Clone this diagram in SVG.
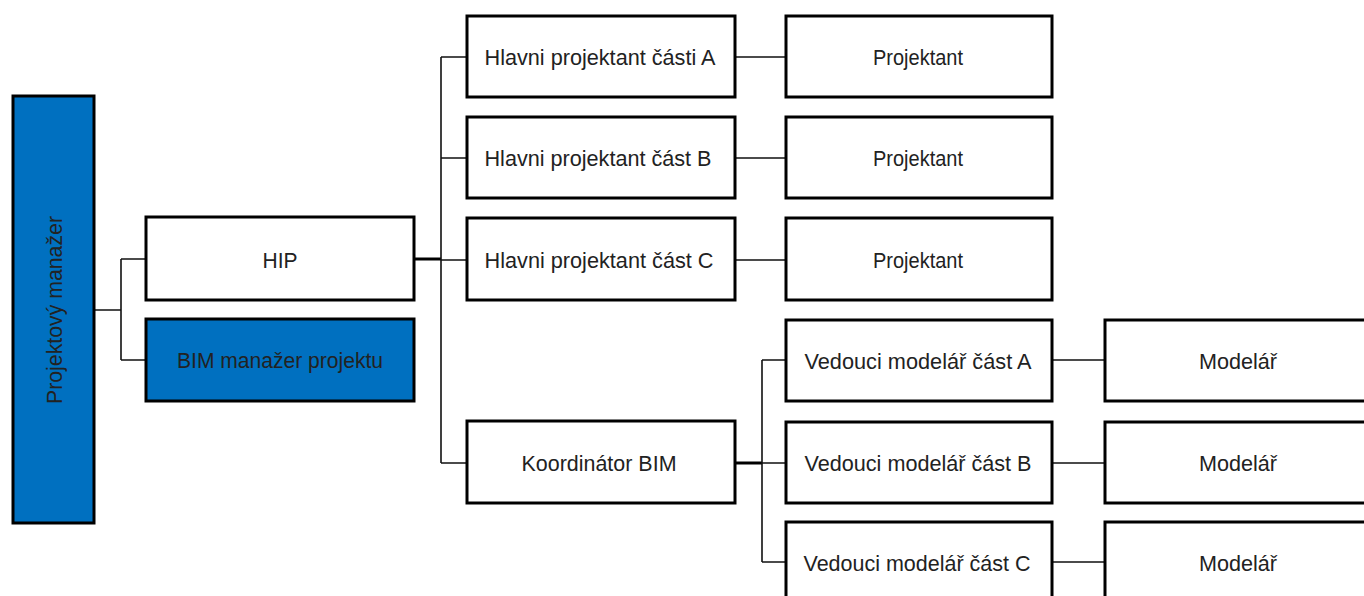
<svg xmlns="http://www.w3.org/2000/svg" width="1364" height="596" viewBox="0 0 1364 596">
<style>
.box{fill:#fff;stroke:#000;stroke-width:3}
.blue{fill:#0070C0;stroke:#000;stroke-width:3}
.lbl{font-family:"Liberation Sans",Arial,sans-serif;font-size:22px;fill:#222;text-anchor:middle}
.con{fill:none;stroke:#111;stroke-width:1.6}
.thick{fill:none;stroke:#000;stroke-width:3}
</style>
<rect width="1364" height="596" fill="#fff"/>
<g id="connectors">
<path class="con" d="M94 310H121M121 259V360M121 259H146M121 360H146"/>
<path class="thick" d="M414 259H441"/>
<path class="con" d="M441 57V463M441 57H466M441 158H466M441 260H466M441 463H466"/>
<path class="con" d="M735 57H785M735 158H785M735 260H785"/>
<path class="thick" d="M735 463H762"/>
<path class="con" d="M762 360V562M762 360H785M762 463H785M762 562H785"/>
<path class="con" d="M1052 360H1104M1052 463H1104M1052 562H1104"/>
</g>
<g id="pm"><rect class="blue" x="13" y="96" width="81" height="427"/>
<text class="lbl" transform="translate(62,310) rotate(-90)" textLength="188" lengthAdjust="spacingAndGlyphs">Projektový manažer</text></g>
<g id="hip"><rect class="box" x="146" y="217" width="268" height="83"/><text class="lbl" x="280" y="268" textLength="35" lengthAdjust="spacingAndGlyphs">HIP</text></g>
<g id="bimm"><rect class="box" x="146" y="319" width="268" height="82" style="fill:#0070C0"/><text class="lbl" x="280" y="368" textLength="206" lengthAdjust="spacingAndGlyphs">BIM manažer  projektu</text></g>
<g id="hpa"><rect class="box" x="467" y="16" width="268" height="81"/><text class="lbl" x="600" y="65" textLength="231" lengthAdjust="spacingAndGlyphs">Hlavni projektant  části  A</text></g>
<g id="hpb"><rect class="box" x="467" y="117" width="268" height="81"/><text class="lbl" x="598" y="166" textLength="227" lengthAdjust="spacingAndGlyphs">Hlavni projektant  část  B</text></g>
<g id="hpc"><rect class="box" x="467" y="218" width="268" height="82"/><text class="lbl" x="599" y="268" textLength="229" lengthAdjust="spacingAndGlyphs">Hlavni projektant  část  C</text></g>
<g id="pa"><rect class="box" x="786" y="16" width="266" height="81"/><text class="lbl" x="918" y="65" textLength="90" lengthAdjust="spacingAndGlyphs">Projektant</text></g>
<g id="pb"><rect class="box" x="786" y="117" width="266" height="81"/><text class="lbl" x="918" y="166" textLength="90" lengthAdjust="spacingAndGlyphs">Projektant</text></g>
<g id="pc"><rect class="box" x="786" y="218" width="266" height="82"/><text class="lbl" x="918" y="268" textLength="90" lengthAdjust="spacingAndGlyphs">Projektant</text></g>
<g id="kbim"><rect class="box" x="467" y="421" width="268" height="82"/><text class="lbl" x="599" y="471" textLength="155" lengthAdjust="spacingAndGlyphs">Koordinátor  BIM</text></g>
<g id="vma"><rect class="box" x="786" y="320" width="266" height="81"/><text class="lbl" x="918" y="369" textLength="227" lengthAdjust="spacingAndGlyphs">Vedouci  modelář  část  A</text></g>
<g id="vmb"><rect class="box" x="786" y="422" width="266" height="81"/><text class="lbl" x="918" y="471" textLength="227" lengthAdjust="spacingAndGlyphs">Vedouci  modelář  část  B</text></g>
<g id="vmc"><rect class="box" x="786" y="522" width="266" height="82"/><text class="lbl" x="917" y="571" textLength="227" lengthAdjust="spacingAndGlyphs">Vedouci  modelář  část  C</text></g>
<g id="ma"><rect class="box" x="1105" y="320" width="266" height="81"/><text class="lbl" x="1238" y="369" textLength="78" lengthAdjust="spacingAndGlyphs">Modelář</text></g>
<g id="mb"><rect class="box" x="1105" y="422" width="266" height="81"/><text class="lbl" x="1238" y="471" textLength="78" lengthAdjust="spacingAndGlyphs">Modelář</text></g>
<g id="mc"><rect class="box" x="1105" y="522" width="266" height="82"/><text class="lbl" x="1238" y="571" textLength="78" lengthAdjust="spacingAndGlyphs">Modelář</text></g>
</svg>
